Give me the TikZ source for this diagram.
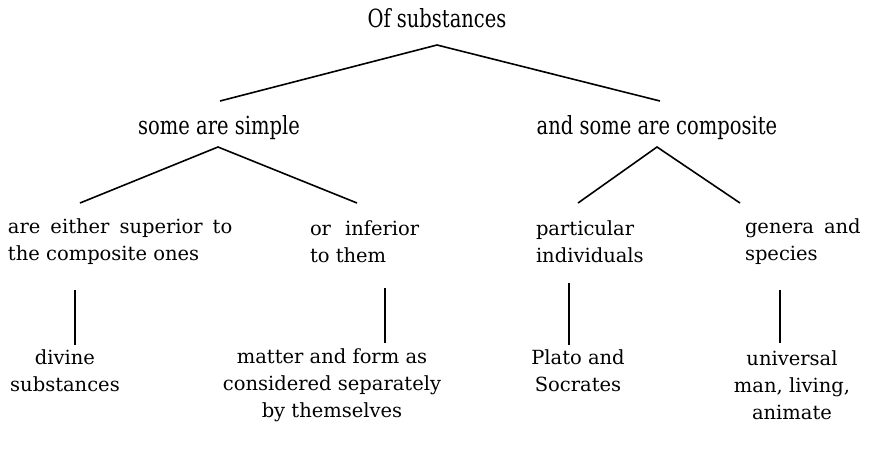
\documentclass[tikz,border=0pt]{standalone}
\usepackage{fontspec}
\setmainfont{DejaVu Serif}
\usepackage{graphicx}
\begin{document}
\begin{tikzpicture}[x=1pt,y=-1pt,
  every node/.style={inner sep=0pt, outer sep=0pt},
  txt/.style={font=\fontsize{19.5}{27}\selectfont},
  narrow/.style={font=\fontsize{25}{28}\selectfont},
  branch/.style={line width=1.6pt, black}]
\useasboundingbox (0,0) rectangle (870,451);

% first two levels (condensed lettering)
\node[narrow] (root) at (437,18) {\scalebox{0.78}[1]{Of substances}};
\node[narrow] (simple) at (219,128) {\scalebox{0.78}[1]{some are simple}};
\node[narrow] (comp) at (657,128) {\scalebox{0.78}[1]{and some are composite}};

% third level
\node[txt, align=left, anchor=west] (sup) at (8,242)
  {are\hspace{10pt}either\hspace{10pt}superior\hspace{10pt}to\\the composite ones};
\node[txt, align=left, anchor=west] (inf) at (310,242) {or\hspace{14pt}inferior\\to them};
\node[txt, align=left, anchor=west] (part) at (536,242) {particular\\individuals};
\node[txt, align=left, anchor=west] (gen) at (745,242) {genera\hspace{10pt}and\\species};

% fourth level
\node[txt, align=center] (div) at (65,371) {divine\\substances};
\node[txt, align=center] (mat) at (332,385) {matter and form as\\considered separately\\by themselves};
\node[txt, align=center] (plato) at (578,371) {Plato and\\Socrates};
\node[txt, align=center] (univ) at (792,385) {universal\\man, living,\\animate};

% branch points
\coordinate (r0) at (437,45);
\coordinate (r1) at (220,101);
\coordinate (r2) at (660,101);
\coordinate (s0) at (218,147);
\coordinate (s1) at (80,203);
\coordinate (s2) at (357,203);
\coordinate (c0) at (657,147);
\coordinate (c1) at (578,203);
\coordinate (c2) at (740,203);
\coordinate (v1a) at (75,290);  \coordinate (v1b) at (75,345);
\coordinate (v2a) at (385,288); \coordinate (v2b) at (385,343);
\coordinate (v3a) at (569,283); \coordinate (v3b) at (569,345);
\coordinate (v4a) at (780,290); \coordinate (v4b) at (780,343);

\draw[branch] (r1) -- (r0) -- (r2);
\draw[branch] (s1) -- (s0) -- (s2);
\draw[branch] (c1) -- (c0) -- (c2);
\draw[branch] (v1a) -- (v1b);
\draw[branch] (v2a) -- (v2b);
\draw[branch] (v3a) -- (v3b);
\draw[branch] (v4a) -- (v4b);
\end{tikzpicture}
\end{document}
